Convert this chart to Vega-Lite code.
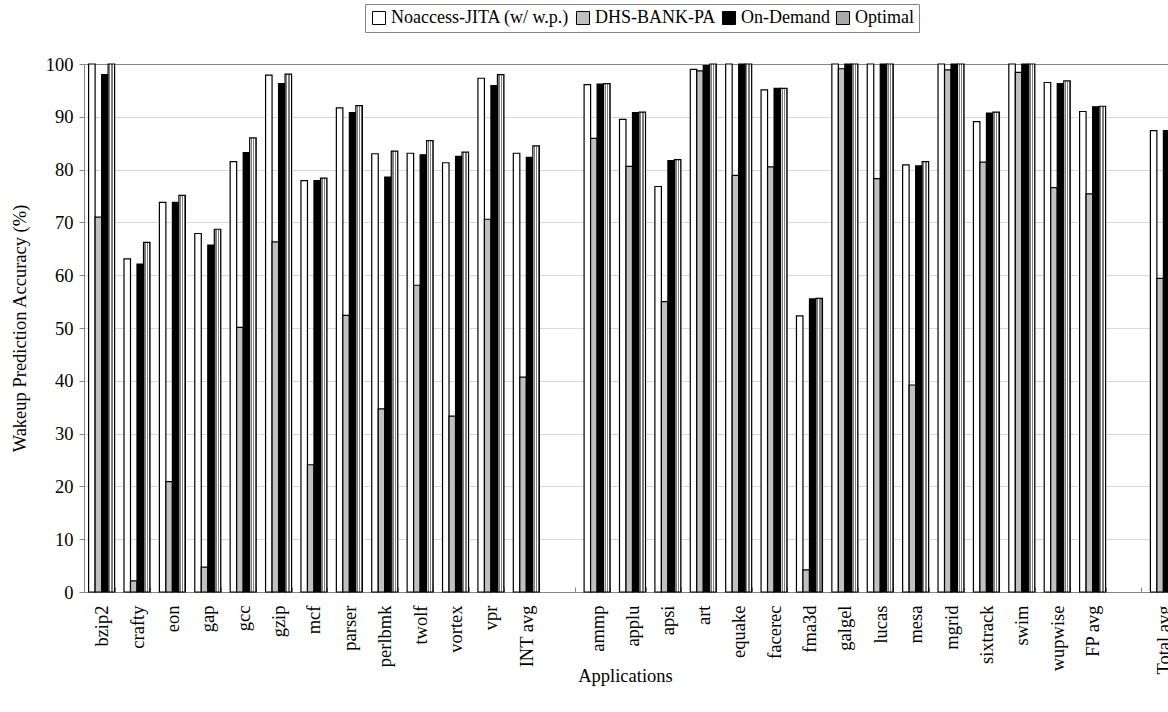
{
  "$schema": "https://vega.github.io/schema/vega-lite/v6.json",
  "autosize": {"type": "none"},
  "padding": {"left": 84, "top": 64, "right": 0, "bottom": 120},
  "width": 1084,
  "height": 528,
  "background": "white",
  "config": {"view": {"stroke": null}, "font": "Liberation Serif"},
  "data": {"values": [
    {"app": "bzip2", "series": "Noaccess-JITA (w/ w.p.)", "value": 100},
    {"app": "bzip2", "series": "DHS-BANK-PA", "value": 71.0},
    {"app": "bzip2", "series": "On-Demand", "value": 98.0},
    {"app": "bzip2", "series": "Optimal", "value": 100},
    {"app": "crafty", "series": "Noaccess-JITA (w/ w.p.)", "value": 63.1},
    {"app": "crafty", "series": "DHS-BANK-PA", "value": 2.1},
    {"app": "crafty", "series": "On-Demand", "value": 62.1},
    {"app": "crafty", "series": "Optimal", "value": 66.2},
    {"app": "eon", "series": "Noaccess-JITA (w/ w.p.)", "value": 73.8},
    {"app": "eon", "series": "DHS-BANK-PA", "value": 20.9},
    {"app": "eon", "series": "On-Demand", "value": 73.8},
    {"app": "eon", "series": "Optimal", "value": 75.1},
    {"app": "gap", "series": "Noaccess-JITA (w/ w.p.)", "value": 67.9},
    {"app": "gap", "series": "DHS-BANK-PA", "value": 4.7},
    {"app": "gap", "series": "On-Demand", "value": 65.7},
    {"app": "gap", "series": "Optimal", "value": 68.7},
    {"app": "gcc", "series": "Noaccess-JITA (w/ w.p.)", "value": 81.5},
    {"app": "gcc", "series": "DHS-BANK-PA", "value": 50.1},
    {"app": "gcc", "series": "On-Demand", "value": 83.2},
    {"app": "gcc", "series": "Optimal", "value": 86.0},
    {"app": "gzip", "series": "Noaccess-JITA (w/ w.p.)", "value": 97.9},
    {"app": "gzip", "series": "DHS-BANK-PA", "value": 66.3},
    {"app": "gzip", "series": "On-Demand", "value": 96.3},
    {"app": "gzip", "series": "Optimal", "value": 98.1},
    {"app": "mcf", "series": "Noaccess-JITA (w/ w.p.)", "value": 77.9},
    {"app": "mcf", "series": "DHS-BANK-PA", "value": 24.1},
    {"app": "mcf", "series": "On-Demand", "value": 77.9},
    {"app": "mcf", "series": "Optimal", "value": 78.4},
    {"app": "parser", "series": "Noaccess-JITA (w/ w.p.)", "value": 91.7},
    {"app": "parser", "series": "DHS-BANK-PA", "value": 52.4},
    {"app": "parser", "series": "On-Demand", "value": 90.8},
    {"app": "parser", "series": "Optimal", "value": 92.1},
    {"app": "perlbmk", "series": "Noaccess-JITA (w/ w.p.)", "value": 83.0},
    {"app": "perlbmk", "series": "DHS-BANK-PA", "value": 34.7},
    {"app": "perlbmk", "series": "On-Demand", "value": 78.6},
    {"app": "perlbmk", "series": "Optimal", "value": 83.5},
    {"app": "twolf", "series": "Noaccess-JITA (w/ w.p.)", "value": 83.1},
    {"app": "twolf", "series": "DHS-BANK-PA", "value": 58.1},
    {"app": "twolf", "series": "On-Demand", "value": 82.8},
    {"app": "twolf", "series": "Optimal", "value": 85.5},
    {"app": "vortex", "series": "Noaccess-JITA (w/ w.p.)", "value": 81.3},
    {"app": "vortex", "series": "DHS-BANK-PA", "value": 33.3},
    {"app": "vortex", "series": "On-Demand", "value": 82.5},
    {"app": "vortex", "series": "Optimal", "value": 83.3},
    {"app": "vpr", "series": "Noaccess-JITA (w/ w.p.)", "value": 97.3},
    {"app": "vpr", "series": "DHS-BANK-PA", "value": 70.6},
    {"app": "vpr", "series": "On-Demand", "value": 95.9},
    {"app": "vpr", "series": "Optimal", "value": 98.0},
    {"app": "INT avg", "series": "Noaccess-JITA (w/ w.p.)", "value": 83.1},
    {"app": "INT avg", "series": "DHS-BANK-PA", "value": 40.7},
    {"app": "INT avg", "series": "On-Demand", "value": 82.3},
    {"app": "INT avg", "series": "Optimal", "value": 84.5},
    {"app": "ammp", "series": "Noaccess-JITA (w/ w.p.)", "value": 96.1},
    {"app": "ammp", "series": "DHS-BANK-PA", "value": 85.9},
    {"app": "ammp", "series": "On-Demand", "value": 96.2},
    {"app": "ammp", "series": "Optimal", "value": 96.3},
    {"app": "applu", "series": "Noaccess-JITA (w/ w.p.)", "value": 89.5},
    {"app": "applu", "series": "DHS-BANK-PA", "value": 80.6},
    {"app": "applu", "series": "On-Demand", "value": 90.8},
    {"app": "applu", "series": "Optimal", "value": 90.9},
    {"app": "apsi", "series": "Noaccess-JITA (w/ w.p.)", "value": 76.8},
    {"app": "apsi", "series": "DHS-BANK-PA", "value": 55.0},
    {"app": "apsi", "series": "On-Demand", "value": 81.7},
    {"app": "apsi", "series": "Optimal", "value": 81.9},
    {"app": "art", "series": "Noaccess-JITA (w/ w.p.)", "value": 99.0},
    {"app": "art", "series": "DHS-BANK-PA", "value": 98.7},
    {"app": "art", "series": "On-Demand", "value": 99.7},
    {"app": "art", "series": "Optimal", "value": 100},
    {"app": "equake", "series": "Noaccess-JITA (w/ w.p.)", "value": 100},
    {"app": "equake", "series": "DHS-BANK-PA", "value": 78.9},
    {"app": "equake", "series": "On-Demand", "value": 100},
    {"app": "equake", "series": "Optimal", "value": 100},
    {"app": "facerec", "series": "Noaccess-JITA (w/ w.p.)", "value": 95.1},
    {"app": "facerec", "series": "DHS-BANK-PA", "value": 80.5},
    {"app": "facerec", "series": "On-Demand", "value": 95.4},
    {"app": "facerec", "series": "Optimal", "value": 95.4},
    {"app": "fma3d", "series": "Noaccess-JITA (w/ w.p.)", "value": 52.3},
    {"app": "fma3d", "series": "DHS-BANK-PA", "value": 4.2},
    {"app": "fma3d", "series": "On-Demand", "value": 55.5},
    {"app": "fma3d", "series": "Optimal", "value": 55.6},
    {"app": "galgel", "series": "Noaccess-JITA (w/ w.p.)", "value": 100},
    {"app": "galgel", "series": "DHS-BANK-PA", "value": 99.1},
    {"app": "galgel", "series": "On-Demand", "value": 100},
    {"app": "galgel", "series": "Optimal", "value": 100},
    {"app": "lucas", "series": "Noaccess-JITA (w/ w.p.)", "value": 100},
    {"app": "lucas", "series": "DHS-BANK-PA", "value": 78.3},
    {"app": "lucas", "series": "On-Demand", "value": 100},
    {"app": "lucas", "series": "Optimal", "value": 100},
    {"app": "mesa", "series": "Noaccess-JITA (w/ w.p.)", "value": 80.9},
    {"app": "mesa", "series": "DHS-BANK-PA", "value": 39.2},
    {"app": "mesa", "series": "On-Demand", "value": 80.7},
    {"app": "mesa", "series": "Optimal", "value": 81.5},
    {"app": "mgrid", "series": "Noaccess-JITA (w/ w.p.)", "value": 100},
    {"app": "mgrid", "series": "DHS-BANK-PA", "value": 98.9},
    {"app": "mgrid", "series": "On-Demand", "value": 100},
    {"app": "mgrid", "series": "Optimal", "value": 100},
    {"app": "sixtrack", "series": "Noaccess-JITA (w/ w.p.)", "value": 89.1},
    {"app": "sixtrack", "series": "DHS-BANK-PA", "value": 81.4},
    {"app": "sixtrack", "series": "On-Demand", "value": 90.7},
    {"app": "sixtrack", "series": "Optimal", "value": 90.9},
    {"app": "swim", "series": "Noaccess-JITA (w/ w.p.)", "value": 100},
    {"app": "swim", "series": "DHS-BANK-PA", "value": 98.4},
    {"app": "swim", "series": "On-Demand", "value": 100},
    {"app": "swim", "series": "Optimal", "value": 100},
    {"app": "wupwise", "series": "Noaccess-JITA (w/ w.p.)", "value": 96.5},
    {"app": "wupwise", "series": "DHS-BANK-PA", "value": 76.6},
    {"app": "wupwise", "series": "On-Demand", "value": 96.3},
    {"app": "wupwise", "series": "Optimal", "value": 96.8},
    {"app": "FP avg", "series": "Noaccess-JITA (w/ w.p.)", "value": 91.0},
    {"app": "FP avg", "series": "DHS-BANK-PA", "value": 75.4},
    {"app": "FP avg", "series": "On-Demand", "value": 91.9},
    {"app": "FP avg", "series": "Optimal", "value": 92.0},
    {"app": "Total avg", "series": "Noaccess-JITA (w/ w.p.)", "value": 87.4},
    {"app": "Total avg", "series": "DHS-BANK-PA", "value": 59.4},
    {"app": "Total avg", "series": "On-Demand", "value": 87.4},
    {"app": "Total avg", "series": "Optimal", "value": 88.5}
  ]},
  "mark": {"type": "bar", "stroke": "black", "strokeWidth": 1.2},
  "encoding": {
    "x": {
      "field": "app", "type": "nominal", "sort": null,
      "scale": {
        "domain": ["bzip2", "crafty", "eon", "gap", "gcc", "gzip", "mcf", "parser", "perlbmk", "twolf", "vortex", "vpr", "INT avg", " ", "ammp", "applu", "apsi", "art", "equake", "facerec", "fma3d", "galgel", "lucas", "mesa", "mgrid", "sixtrack", "swim", "wupwise", "FP avg", "  ", "Total avg"],
        "range": [0, 1097], "paddingInner": 0.265, "paddingOuter": 0.13
      },
      "axis": {
        "title": "Applications", "labelAngle": -90, "labelAlign": "right", "labelBaseline": "middle",
        "labelFontSize": 18.5, "labelColor": "black", "labelPadding": 18, "labelOverlap": false, "labelBound": false, "labelFlush": false,
        "tickSize": -5, "tickBand": "extent", "tickColor": "#868686", "domainColor": "#868686",
        "titleFontSize": 18.5, "titleFontWeight": "normal", "titleColor": "black",
        "titleX": 541, "titleY": 89, "titleBaseline": "alphabetic", "titleAnchor": "middle"
      }
    },
    "xOffset": {
      "field": "series", "type": "nominal",
      "scale": {"domain": ["Noaccess-JITA (w/ w.p.)", "DHS-BANK-PA", "On-Demand", "Optimal"], "paddingInner": 0, "paddingOuter": 0}
    },
    "y": {
      "field": "value", "type": "quantitative",
      "scale": {"domain": [0, 100], "nice": false},
      "axis": {
        "title": "Wakeup Prediction Accuracy (%)", "values": [0, 10, 20, 30, 40, 50, 60, 70, 80, 90, 100],
        "grid": true,
        "gridColor": {"condition": {"test": "datum.value === 100", "value": "#868686"}, "value": "#d9d9d9"},
        "domainColor": "#868686", "tickColor": "#868686", "tickSize": 5,
        "labelFontSize": 18.5, "labelColor": "black", "labelPadding": 6,
        "titleFontSize": 18.5, "titleFontWeight": "normal", "titleColor": "black", "titlePadding": 16
      }
    },
    "fill": {
      "condition": {"test": "datum.series === 'Optimal'", "value": {"gradient": "linear", "x1": 0, "y1": 0, "x2": 1, "y2": 0, "stops": [
          {"offset": 0, "color": "#ffffff"}, {"offset": 0.15, "color": "#ffffff"},
          {"offset": 0.15, "color": "#7f7f7f"}, {"offset": 0.35, "color": "#7f7f7f"},
          {"offset": 0.35, "color": "#ffffff"}, {"offset": 0.5, "color": "#ffffff"},
          {"offset": 0.5, "color": "#7f7f7f"}, {"offset": 0.7, "color": "#7f7f7f"},
          {"offset": 0.7, "color": "#ffffff"}, {"offset": 0.85, "color": "#ffffff"},
          {"offset": 0.85, "color": "#7f7f7f"}, {"offset": 1, "color": "#7f7f7f"}
        ]}},
      "field": "series", "type": "nominal",
      "scale": {
        "domain": ["Noaccess-JITA (w/ w.p.)", "DHS-BANK-PA", "On-Demand", "Optimal"],
        "range": ["#ffffff", "#c0c0c0", "#000000", "#a8a8a8"]
      },
      "legend": {
        "orient": "none", "legendX": 281, "legendY": -60, "direction": "horizontal", "title": null,
        "strokeColor": "#868686", "fillColor": "white", "padding": 5,
        "labelFontSize": 18, "labelColor": "black", "labelLimit": 400, "labelOffset": 3,
        "symbolType": "square", "symbolSize": 170, "symbolStrokeColor": "black", "symbolStrokeWidth": 1,
        "columnPadding": 4
      }
    }
  }
}
